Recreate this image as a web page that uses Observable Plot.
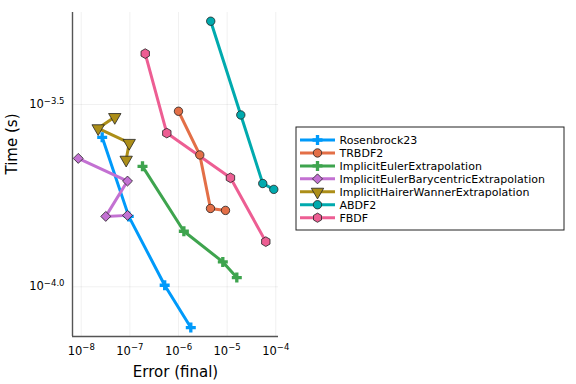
<!DOCTYPE html>
<html><head><meta charset="utf-8">
<script src="https://cdn.jsdelivr.net/npm/d3@7"></script>
<script src="https://cdn.jsdelivr.net/npm/@observablehq/plot@0.6"></script>
<style>body{margin:0;background:#fff;} #chart{width:576px;height:384px;}</style>
</head><body><div id="chart"></div>
<script>
// ---- data ----
const seriesNames = ["Rosenbrock23","TRBDF2","ImplicitEulerExtrapolation","ImplicitEulerBarycentricExtrapolation","ImplicitHairerWannerExtrapolation","ABDF2","FBDF"];
const seriesColors = ["#009AFA","#E36F47","#3EA44E","#C371D2","#AC8E18","#00AAAE","#ED5E93"];
const seriesSymbols = ["cross","circle","cross","diamond2","triangle","circle","hexagon"];
const rosenbrock23Error = [2.7e-8, 9.5e-8, 5.2e-7, 1.79e-6];
const rosenbrock23Time  = [2.57e-4, 1.56e-4, 1.01e-4, 7.73e-5];
const trbdf2Error = [1.0e-6, 2.74e-6, 4.55e-6, 9.25e-6];
const trbdf2Time  = [3.03e-4, 2.30e-4, 1.64e-4, 1.62e-4];
const ieExtrapError = [1.82e-7, 1.29e-6, 8.15e-6, 1.58e-5];
const ieExtrapTime  = [2.14e-4, 1.42e-4, 1.17e-4, 1.06e-4];
const ieBaryError = [8.7e-9, 8.95e-8, 3.2e-8, 8.95e-8];
const ieBaryTime  = [2.25e-4, 1.95e-4, 1.56e-4, 1.57e-4];
const ihwError = [4.9e-8, 2.23e-8, 9.7e-8, 8.4e-8];
const ihwTime  = [2.92e-4, 2.72e-4, 2.48e-4, 2.23e-4];
const abdf2Error = [4.6e-6, 1.91e-5, 5.4e-5, 9.1e-5];
const abdf2Time  = [5.35e-4, 2.96e-4, 1.92e-4, 1.85e-4];
const fbdfError = [2.07e-7, 5.75e-7, 1.17e-5, 6.24e-5];
const fbdfTime  = [4.36e-4, 2.64e-4, 1.99e-4, 1.33e-4];
const xTicks = [1e-8, 1e-7, 1e-6, 1e-5, 1e-4];
const yTicks = [Math.pow(10,-4.0), Math.pow(10,-3.5)];
const xTickLabels = ["-8","-7","-6","-5","-4"];
const yTickLabels = ["-4.0","-3.5"];
const xLabel = "Error (final)";
const yLabel = "Time (s)";

const errors = [rosenbrock23Error, trbdf2Error, ieExtrapError, ieBaryError, ihwError, abdf2Error, fbdfError];
const times  = [rosenbrock23Time, trbdf2Time, ieExtrapTime, ieBaryTime, ihwTime, abdf2Time, fbdfTime];
const series = seriesNames.map((name, i) => ({
  name, color: seriesColors[i], symbol: seriesSymbols[i],
  points: errors[i].map((e, j) => ({name, error: e, time: times[i][j]}))
}));

const xDomain = [Math.pow(10,-8.179), Math.pow(10,-3.944)];
const yDomain = [Math.pow(10,-4.1363), Math.pow(10,-3.2477)];
const font = "DejaVu Sans, sans-serif";
const symR = {triangle: 4.6, diamond2: 4.5, cross: 4.2, circle: 4.2, hexagon: 4.2};

const marks = [
  Plot.gridX(xTicks, {stroke: "#000", strokeOpacity: 0.1, strokeWidth: 0.6}),
  Plot.gridY(yTicks, {stroke: "#000", strokeOpacity: 0.1, strokeWidth: 0.6}),
  Plot.ruleY([yDomain[0]], {stroke: "#555", strokeWidth: 1.4}),
  Plot.ruleX([xDomain[0]], {stroke: "#555", strokeWidth: 1.4}),
  Plot.axisX(xTicks, {tickSize: 0, tickPadding: 10, fontSize: 11, label: null,
    tickFormat: (d) => "10^" + xTickLabels[xTicks.indexOf(d)]}),
  Plot.axisY(yTicks, {tickSize: 0, tickPadding: 8, fontSize: 11, label: null,
    tickFormat: (d) => "10^" + yTickLabels[yTicks.indexOf(d)]}),
  Plot.text([xLabel], {text: d => d, frameAnchor: "bottom", dy: 36, fontSize: 15, lineAnchor: "middle"}),
  Plot.text([yLabel], {text: d => d, frameAnchor: "left", dx: -60, rotate: -90, fontSize: 15, lineAnchor: "middle"})
];
for (const s of series) {
  marks.push(Plot.line(s.points, {x: "error", y: "time", stroke: s.color, strokeWidth: 3}));
}
for (const s of series) {
  const isCross = s.symbol === "cross";
  marks.push(Plot.dot(s.points, {x: "error", y: "time", symbol: () => s.symbol, fill: s.color,
    stroke: isCross ? "none" : "#222", strokeWidth: 0.8,
    r: symR[s.symbol], rotate: s.symbol === "triangle" ? 180 : 0}));
}

const chart = Plot.plot({
  width: 576, height: 384,
  marginLeft: 72, marginRight: 298, marginTop: 12, marginBottom: 48,
  style: {fontFamily: font, fontSize: "11px", background: "white", color: "#000"},
  x: {type: "log", domain: xDomain},
  y: {type: "log", domain: yDomain},
  symbol: {type: "identity"},
  marks
});
document.getElementById("chart").appendChild(chart);

// superscripts for tick labels
const svg = d3.select(chart);
svg.selectAll("text").each(function() {
  const t = this.textContent;
  if (t.startsWith("10^")) {
    const exp = t.slice(3).replace("-", "\u2212");
    const sel = d3.select(this);
    sel.text(null).attr("font-size", "11.5px").style("font-size", "11.5px");
    sel.append("tspan").text("10");
    sel.append("tspan").attr("dy", "-0.5em").style("font-size", "8.5px").text(exp);
  }
});

// legend
const lg = svg.append("g").attr("transform", "translate(296,127)")
  .attr("font-family", font).attr("font-size", 11).attr("text-anchor", "start");
lg.append("rect").attr("x", 0).attr("y", 0).attr("width", 268).attr("height", 103)
  .attr("fill", "white").attr("stroke", "#222").attr("stroke-width", 1);
function hexPath(r) {
  const pts = d3.range(6).map(k => { const a = Math.PI/3*k - Math.PI/2; return [r*Math.cos(a), r*Math.sin(a)]; });
  return "M" + pts.map(p => p.join(",")).join("L") + "Z";
}
const d3sym = {cross: d3.symbolCross, circle: d3.symbolCircle, diamond2: d3.symbolDiamond2, triangle: d3.symbolTriangle};
series.forEach((s, i) => {
  const y = 13 + i * 12.95;
  const row = lg.append("g").attr("transform", `translate(0,${y})`);
  row.append("line").attr("x1", 4).attr("x2", 39).attr("y1", 0).attr("y2", 0)
    .attr("stroke", s.color).attr("stroke-width", 3);
  const r = symR[s.symbol];
  const path = s.symbol === "hexagon" ? hexPath(4.6) : d3.symbol(d3sym[s.symbol], Math.PI * r * r)();
  row.append("path").attr("d", path)
    .attr("transform", `translate(21.5,0)` + (s.symbol === "triangle" ? " rotate(180)" : ""))
    .attr("fill", s.color).attr("stroke", s.symbol === "cross" ? "none" : "#222").attr("stroke-width", 0.8);
  row.append("text").attr("x", 43.5).attr("y", 0).attr("dy", "0.35em").attr("text-anchor", "start")
    .attr("fill", "#000").text(s.name);
});
</script>
</body></html>
